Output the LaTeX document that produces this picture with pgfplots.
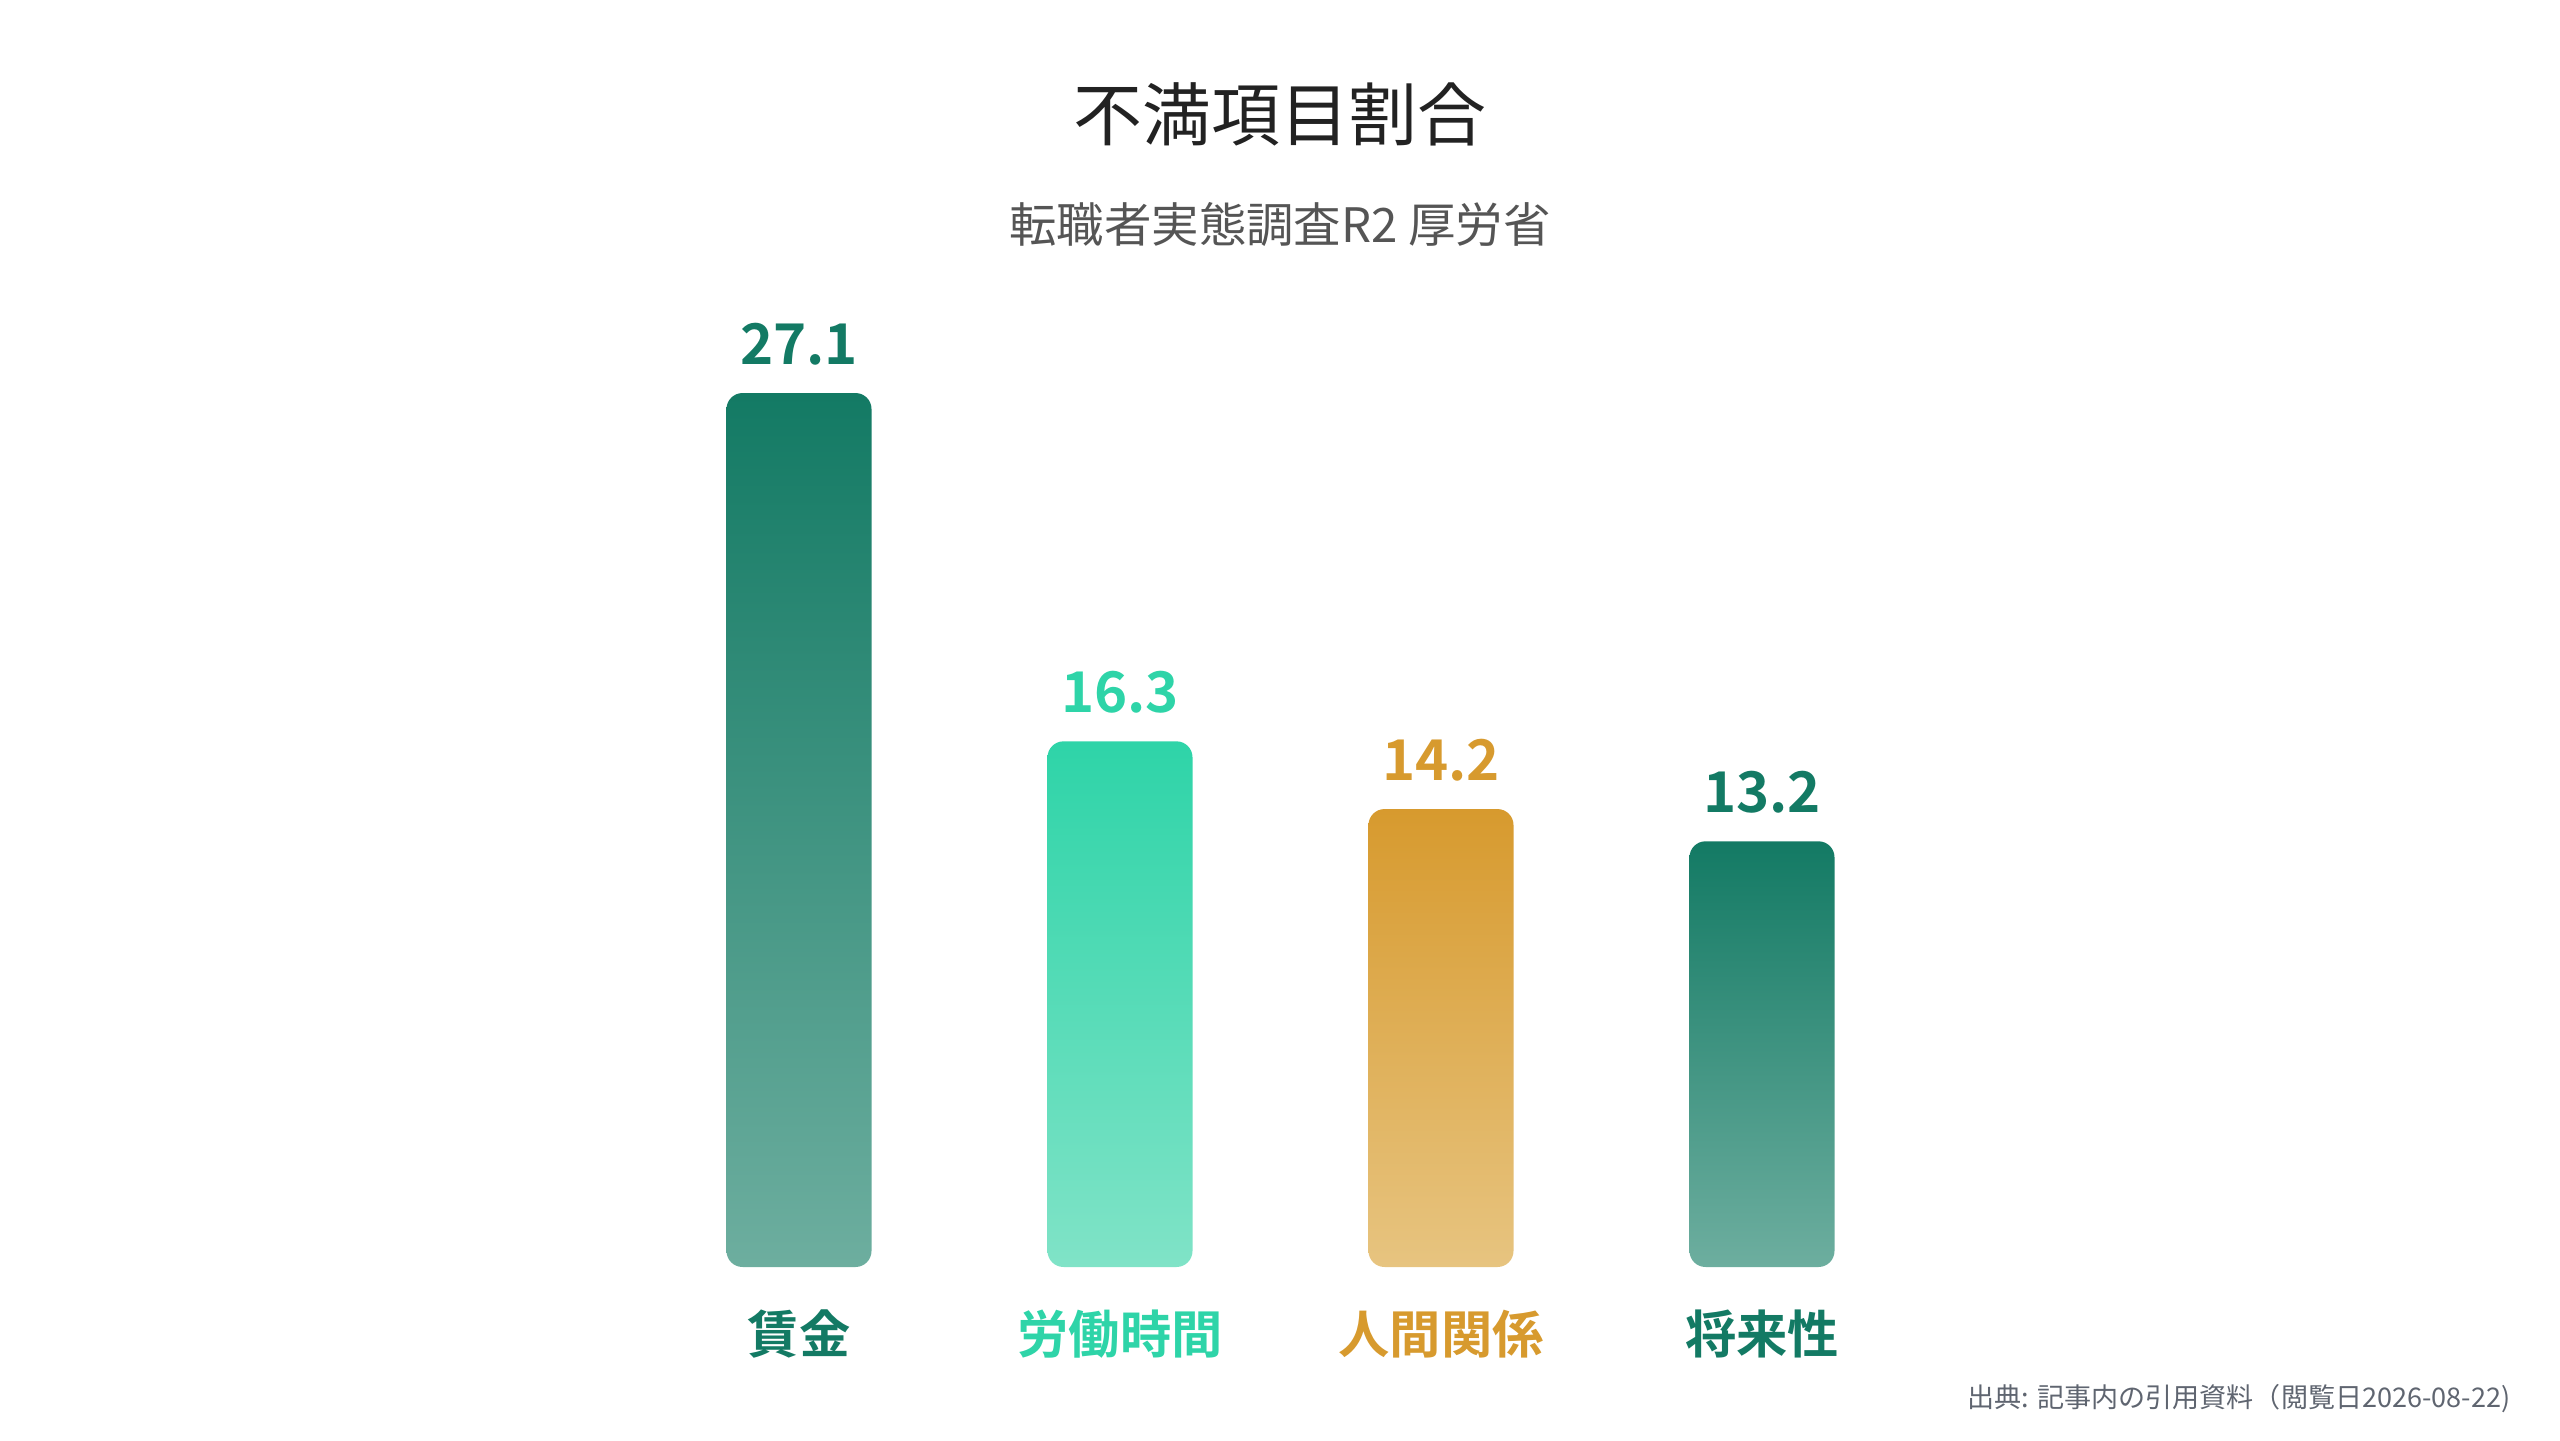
\documentclass[border=0pt]{standalone}
\usepackage{pgfplots}
\pgfplotsset{compat=1.18}
\usepackage{fontspec}
\setmainfont{Noto Sans CJK JP}[BoldFont={Noto Sans CJK JP Bold}]

\definecolor{tealtop}{HTML}{137A64}
\definecolor{tealbot}{HTML}{6DAE9F}
\definecolor{minttop}{HTML}{2ED4A8}
\definecolor{mintbot}{HTML}{80E3C7}
\definecolor{goldtop}{HTML}{D79A2E}
\definecolor{goldbot}{HTML}{E7C480}
\definecolor{titlegray}{HTML}{222222}
\definecolor{subgray}{HTML}{555555}
\definecolor{srcgray}{HTML}{5F6570}

\pgfplotsset{
  roundbar/.style={ybar, bar width=14.5mm, bar shift=0pt, draw=none,
    rounded corners=1.6mm},
}

\begin{document}
\begin{tikzpicture}
\path[use as bounding box] (0,0) rectangle (256mm,144mm);

\node[anchor=center, inner sep=0, text=titlegray,
  font=\fontsize{19.6pt}{24pt}\selectfont] at (128mm,132.6mm) {不満項目割合};
\node[anchor=center, inner sep=0, text=subgray,
  font=\fontsize{13.5pt}{16pt}\selectfont] at (128mm,121.5mm) {転職者実態調査R2 厚労省};
\node[anchor=east, inner sep=0, text=srcgray,
  font=\fontsize{7.7pt}{9pt}\selectfont] at (251.1mm,4.1mm) {出典: 記事内の引用資料（閲覧日2026-08-22)};

\begin{axis}[
    at={(63.85mm,17.3mm)}, anchor=south west,
    scale only axis,
    width=128.4mm, height=96.75mm,
    xmin=-0.5, xmax=3.5,
    ymin=0, ymax=30,
    enlargelimits=false,
    clip=false,
    axis line style={draw=none},
    major tick length=0pt,
    ytick=\empty,
    xtick={0,1,2,3},
    xticklabels={{\textcolor{tealtop}{賃金}},{\textcolor{minttop}{労働時間}},
                 {\textcolor{goldtop}{人間関係}},{\textcolor{tealtop}{将来性}}},
    xticklabel style={font=\fontsize{14.6pt}{17pt}\selectfont\bfseries,
                      anchor=base, yshift=-8.6mm},
    /pgf/number format/assume math mode=true,
    nodes near coords={\pgfmathprintnumber[fixed,fixed zerofill,precision=1]{\pgfplotspointmeta}},
    every node near coord/.append style={font=\fontsize{16pt}{19pt}\selectfont\bfseries,
                      anchor=base, yshift=2.9mm},
]
\addplot[roundbar, top color=tealtop, bottom color=tealbot,
  every node near coord/.append style={text=tealtop}] coordinates {(0,27.1)};
\addplot[roundbar, top color=minttop, bottom color=mintbot,
  every node near coord/.append style={text=minttop}] coordinates {(1,16.3)};
\addplot[roundbar, top color=goldtop, bottom color=goldbot,
  every node near coord/.append style={text=goldtop}] coordinates {(2,14.2)};
\addplot[roundbar, top color=tealtop, bottom color=tealbot,
  every node near coord/.append style={text=tealtop}] coordinates {(3,13.2)};
\end{axis}
\end{tikzpicture}
\end{document}
